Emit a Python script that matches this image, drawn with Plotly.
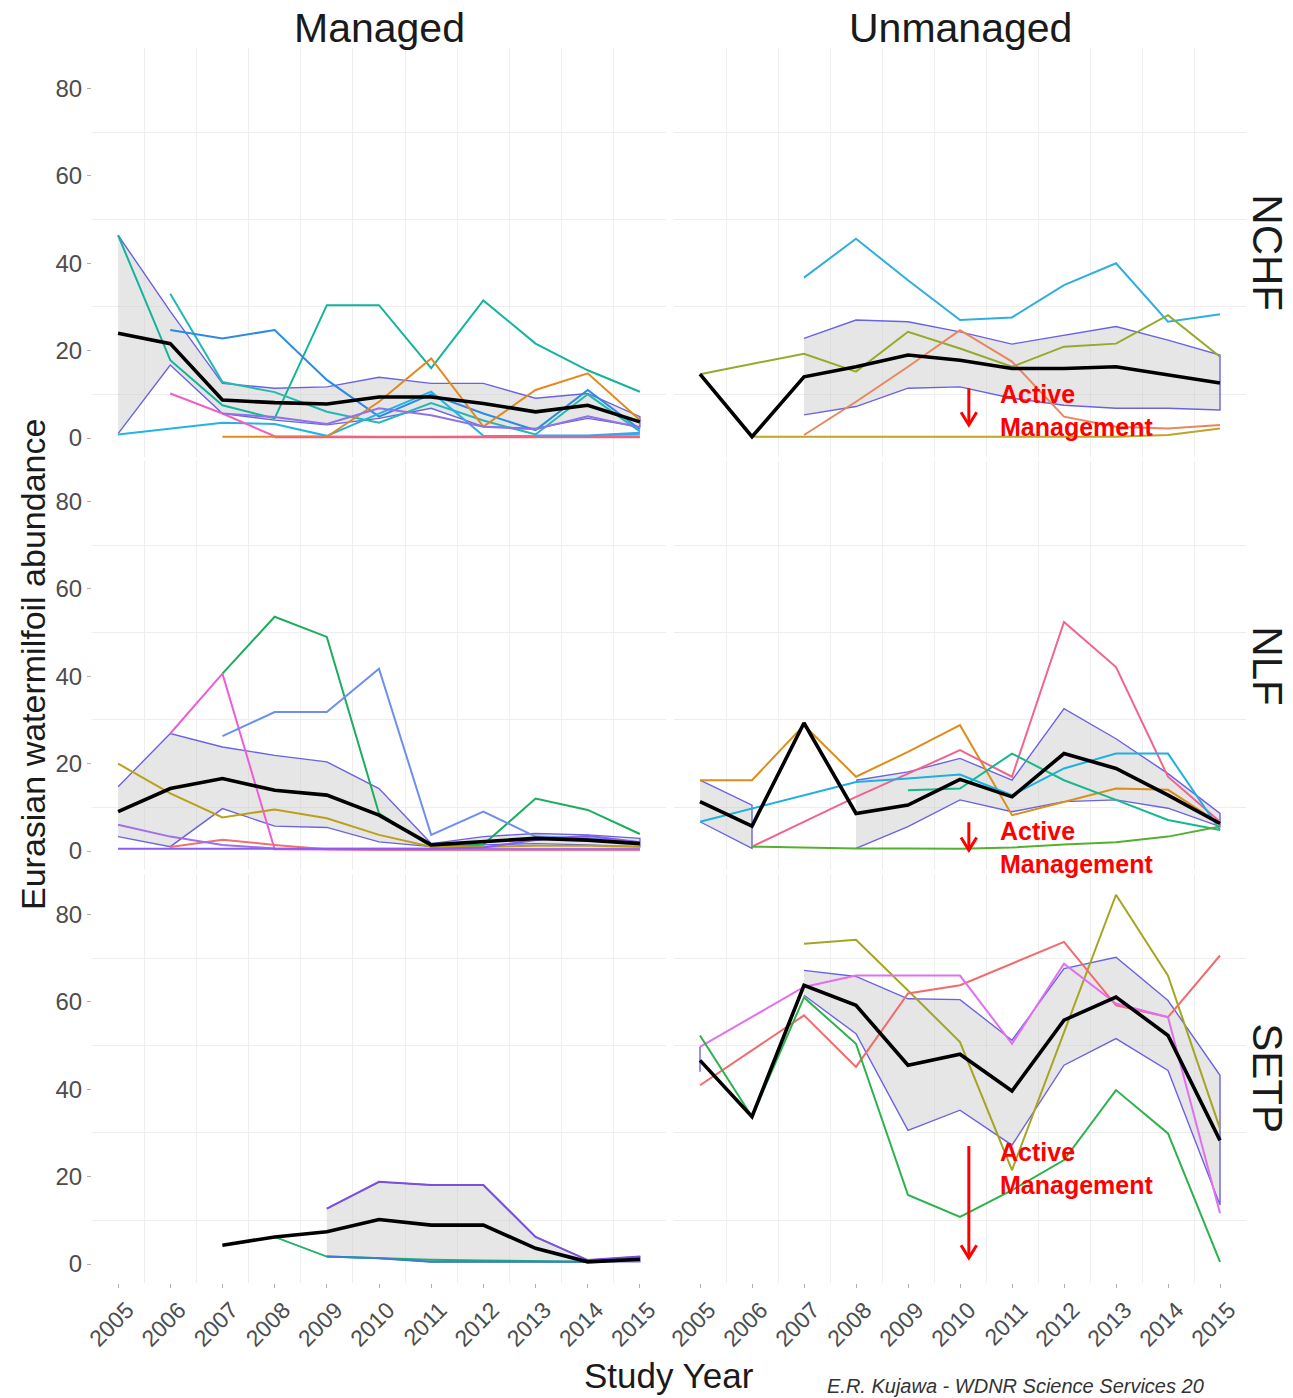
import plotly.graph_objects as go

# ---------------------------------------------------------------- data
YEARS = list(range(2005, 2016))
YEAR_LABELS = [str(y) for y in YEARS]
Y_TICKS = [0, 20, 40, 60, 80]
COL_TITLES = ["Managed", "Unmanaged"]
ROW_TITLES = ["NCHF", "NLF", "SETP"]

# Managed lakes, NCHF ecoregion
M_NCHF_MEAN = [24.0, 21.6, 8.7, 8.1, 7.8, 9.4, 9.4, 7.9, 6.0, 7.5, 3.7]
M_NCHF_HI = [46.4, 29.0, 12.5, 11.4, 11.7, 13.9, 12.5, 12.5, 9.1, 10.2, 4.9]
M_NCHF_LO = [1.0, 16.7, 5.6, 4.1, 3.0, 4.5, 6.8, 2.6, 2.2, 4.5, 2.6]
M_NCHF_LAKES = [
    [46.4, 17.8, 7.5, 4.5, 30.4, 30.4, 16.0, 31.5, 21.6, 15.5, 10.6],
    [None, 33.0, 12.8, 10.5, 6.0, 3.5, 8.0, 4.0, 0.8, 10.0, 1.5],
    [None, 24.7, 22.8, 24.7, 13.3, 4.9, 10.0, 5.6, 1.8, 11.0, 2.0],
    [0.8, 2.2, 3.5, 3.2, 0.5, 5.6, 10.6, 0.5, 0.4, 0.4, 1.0],
    [None, 10.2, 5.6, 0.4, 0.3, 0.3, 0.3, 0.3, 0.3, 0.4, 0.4],
    [None, None, 0.3, 0.3, 0.3, 8.3, 18.2, 2.6, 11.0, 14.8, 4.1],
    [None, None, 5.6, 4.8, 3.2, 6.8, 5.2, 2.6, 2.0, 5.0, 2.4],
    [None, None, None, 0.2, 0.2, 0.2, 0.2, 0.2, 0.2, 0.2, 0.2],
    [None, None, None, None, None, None, None, None, 0.6, 0.6, 1.2],
]
M_NCHF_COLORS = ["#14B49C", "#22B9B4", "#2A8BE4", "#23B4E6", "#F25FC4",
                 "#E3891F", "#8F72E8", "#F0656B", "#3FA2F0"]

# Unmanaged lakes, NCHF ecoregion
U_NCHF_MEAN = [14.6, 0.3, 14.0, 16.3, 19.0, 17.8, 15.9, 15.9, 16.3, 14.4, 12.6]
U_NCHF_HI = [None, None, 22.8, 27.0, 26.6, 24.3, 21.5, 23.5, 25.5, 22.4, 19.0]
U_NCHF_LO = [None, None, 5.3, 7.2, 11.4, 11.7, 9.1, 7.5, 6.8, 6.8, 6.4]
U_NCHF_LAKES = [
    [None, None, 36.7, 45.6, 36.1, 27.0, 27.6, 35.0, 40.0, 26.6, 28.3],
    [14.6, None, 19.3, 15.2, 24.3, 20.5, 16.3, 20.9, 21.6, 28.1, 18.6],
    [None, None, 0.7, 8.3, 16.3, 24.7, 17.5, 4.9, 2.6, 2.2, 3.0],
    [None, 0.3, 0.3, 0.3, 0.3, 0.3, 0.3, 0.3, 0.3, 0.7, 2.2],
]
U_NCHF_COLORS = ["#2FAEE0", "#93AA2A", "#E8875E", "#BFA428"]

# Managed lakes, NLF ecoregion
M_NLF_MEAN = [9.0, 14.3, 16.6, 13.9, 12.8, 8.2, 1.4, 2.1, 2.9, 2.5, 1.7]
M_NLF_HI = [14.7, 26.9, 23.8, 21.9, 20.4, 14.3, 1.7, 3.3, 4.0, 3.7, 2.9]
M_NLF_LO = [3.3, 1.0, 9.7, 5.7, 5.4, 2.1, 1.0, 1.4, 1.7, 1.4, 1.0]
M_NLF_LAKES = [
    [None, None, 40.6, 53.6, 49.0, 8.6, 1.0, 1.5, 12.0, 9.4, 3.9],
    [None, 26.9, 40.6, 0.4, 0.3, 0.3, 0.3, 0.3, 0.3, 0.3, 0.3],
    [None, None, 26.3, 31.8, 31.8, 41.7, 3.7, 9.0, 3.3, 3.0, 2.0],
    [20.0, 13.2, 7.7, 9.5, 7.5, 3.7, 1.0, 1.0, 1.2, 1.2, 1.0],
    [None, 0.9, 2.6, 1.4, 0.4, 0.3, 0.3, 0.3, 0.3, 0.3, 0.3],
    [6.0, 3.3, 1.4, 0.6, 0.5, 0.5, 0.5, 0.5, 0.5, 0.5, 0.5],
    [0.5, 0.5, 0.5, 0.5, 0.5, 0.5, 0.5, 0.8, 2.5, 3.5, 2.0],
]
M_NLF_COLORS = ["#1AAE5C", "#EE5DD8", "#6E8EF0", "#BBA01A",
                "#F07070", "#A070E8", "#8A5CF0"]

# Unmanaged lakes, NLF ecoregion
U_NLF_MEAN = [11.3, 5.7, 29.3, 8.6, 10.5, 16.4, 12.4, 22.3, 18.9, 12.8, 6.3]
U_NLF_HI = [16.2, 10.5, None, 16.2, 18.1, 21.2, 16.2, 32.6, 25.7, 17.7, 8.6]
U_NLF_LO = [6.7, 0.6, None, 0.6, 5.6, 11.7, 9.0, 11.3, 11.7, 9.8, 5.6]
U_NLF_LAKES = [
    [16.2, 16.2, 28.8, 17.0, 22.7, 28.8, 8.2, 11.3, 14.3, 14.0, 6.3],
    [None, 1.0, None, 12.4, 17.7, 23.1, 17.0, 52.4, 42.1, 17.0, 6.7],
    [6.7, 9.7, None, 15.8, 16.6, 17.5, 12.8, 18.9, 22.3, 22.3, 4.8],
    [None, None, None, None, 13.9, 14.3, 22.3, 16.2, 11.7, 7.1, 4.8],
    [None, 1.0, None, 0.6, 0.6, 0.5, 0.8, 1.5, 2.0, 3.3, 5.6],
]
U_NLF_COLORS = ["#DB8E1A", "#F0648E", "#1EB0E0", "#17B890", "#55B030"]

# Managed lakes, SETP ecoregion
M_SETP_MEAN = [None, None, 4.3, 6.2, 7.4, 10.2, 8.9, 8.9, 3.6, 0.5, 1.1]
M_SETP_HI = [None, None, None, None, 12.7, 18.8, 18.1, 18.1, 6.2, 0.9, 1.7]
M_SETP_LO = [None, None, None, None, 1.7, 1.3, 0.5, 0.5, 0.5, 0.5, 0.5]
M_SETP_LAKES = [
    [None, None, 4.3, 6.2, 1.7, 1.3, 1.0, 0.8, 0.6, 0.5, 0.8],
    [None, None, None, None, 1.7, 1.3, 0.5, 0.5, 0.5, 0.5, 1.2],
    [None, None, None, None, 12.7, 18.8, 18.1, 18.1, 6.2, 0.9, 1.7],
]
M_SETP_COLORS = ["#1DB36A", "#3A7BD5", "#7B4FE0"]

# Unmanaged lakes, SETP ecoregion
U_SETP_MEAN = [46.6, 33.7, 63.8, 59.2, 45.5, 48.0, 39.6, 55.8, 61.1, 52.3, 28.3]
U_SETP_HI = [49.7, None, 67.2, 65.8, 60.7, 60.5, 51.2, 67.6, 70.2, 60.3, 43.2]
U_SETP_LO = [44.0, None, 61.5, 52.7, 30.6, 35.2, 27.2, 45.5, 51.6, 44.3, 13.5]
U_SETP_LAKES = [
    [None, None, 73.3, 74.2, 62.6, 50.8, 21.5, 53.0, 84.5, 66.0, 31.0],
    [40.9, None, 56.9, 45.1, 61.9, 63.8, 68.7, 73.7, 59.2, 56.5, 70.6],
    [49.7, None, 63.4, 66.0, 66.0, 66.0, 50.4, 68.7, 59.6, 56.5, 11.6],
    [52.3, 33.7, 61.0, 50.4, 15.8, 10.8, 16.9, 23.8, 39.8, 29.9, 0.5],
]
U_SETP_COLORS = ["#A4A520", "#F26B6B", "#E070F0", "#2CB24C"]

# "Active Management" marker: year of the arrow and arrow span per row
ARROW_YEAR = 2010.17
ARROW_SPAN = [(11.4, 3.0), (6.6, 0.2), (27.0, 1.4)]
NOTE_Y = [6.2, 0.9, 21.9]

PANELS = [
    (M_NCHF_MEAN, M_NCHF_HI, M_NCHF_LO, M_NCHF_LAKES, M_NCHF_COLORS),
    (U_NCHF_MEAN, U_NCHF_HI, U_NCHF_LO, U_NCHF_LAKES, U_NCHF_COLORS),
    (M_NLF_MEAN, M_NLF_HI, M_NLF_LO, M_NLF_LAKES, M_NLF_COLORS),
    (U_NLF_MEAN, U_NLF_HI, U_NLF_LO, U_NLF_LAKES, U_NLF_COLORS),
    (M_SETP_MEAN, M_SETP_HI, M_SETP_LO, M_SETP_LAKES, M_SETP_COLORS),
    (U_SETP_MEAN, U_SETP_HI, U_SETP_LO, U_SETP_LAKES, U_SETP_COLORS),
]

# ---------------------------------------------------------------- layout geometry
W, H = 1293, 1398
FONT = "Liberation Sans, Arial, Helvetica, sans-serif"
COL_PX = [(92, 666), (674, 1246)]
ROW_PX = [(48, 456.6), (461, 869.6), (874, 1282.6)]
X_RANGE = [2004.5, 2015.5]
Y_RANGE = [-4.25, 89.25]
GRID = "#eeeeee"
RIBBON_LINE = "#6A62E4"
RIBBON_FILL = "rgba(200,200,200,0.45)"


def runs(hi, lo):
    """Contiguous index runs where both band limits exist."""
    out, cur = [], []
    for i, (a, b) in enumerate(zip(hi, lo)):
        if a is not None and b is not None:
            cur.append(i)
        elif cur:
            out.append(cur)
            cur = []
    if cur:
        out.append(cur)
    return out


fig = go.Figure()
layout = dict(
    width=W, height=H, margin=dict(l=0, r=0, t=0, b=0, autoexpand=False),
    paper_bgcolor="white", plot_bgcolor="white", showlegend=False,
    font=dict(family=FONT, color="#1a1a1a"),
)

for p, (mean, hi, lo, lakes, colors) in enumerate(PANELS):
    row, col = divmod(p, 2)
    n = p + 1
    xa = "x" if n == 1 else f"x{n}"
    ya = "y" if n == 1 else f"y{n}"

    # grey band with its outline
    for seg in runs(hi, lo):
        xs = [YEARS[i] for i in seg] + [YEARS[i] for i in reversed(seg)]
        ys = [hi[i] for i in seg] + [lo[i] for i in reversed(seg)]
        fig.add_trace(go.Scatter(
            x=xs, y=ys, xaxis=xa, yaxis=ya, mode="lines", fill="toself",
            fillcolor=RIBBON_FILL, line=dict(color=RIBBON_LINE, width=1.4),
            hoverinfo="skip"))

    # individual lakes
    for vals, c in zip(lakes, colors):
        fig.add_trace(go.Scatter(
            x=YEARS, y=vals, xaxis=xa, yaxis=ya, mode="lines",
            connectgaps=True, line=dict(color=c, width=2)))

    # mean line
    fig.add_trace(go.Scatter(
        x=YEARS, y=mean, xaxis=xa, yaxis=ya, mode="lines",
        connectgaps=False, line=dict(color="black", width=3.6)))

    x0, x1 = COL_PX[col]
    y0, y1 = ROW_PX[row]
    bottom = row == 2
    left = col == 0
    layout["xaxis" if n == 1 else f"xaxis{n}"] = dict(
        domain=[x0 / W, x1 / W], range=X_RANGE, anchor=ya, automargin=False,
        tickmode="array", tickvals=YEARS, ticktext=YEAR_LABELS,
        showticklabels=bottom, ticks="outside" if bottom else "",
        ticklen=4, tickcolor="#b0b0b0", tickangle=-45, ticklabelshift=9,
        tickfont=dict(size=23, color="#4d4d4d", family=FONT),
        showgrid=False, zeroline=False, showline=False,
        minor=dict(tickmode="array", tickvals=[y + 0.5 for y in [2004] + YEARS],
                   showgrid=True, gridcolor=GRID, gridwidth=1, ticks=""),
    )
    layout["yaxis" if n == 1 else f"yaxis{n}"] = dict(
        domain=[1 - y1 / H, 1 - y0 / H], range=Y_RANGE, anchor=xa, automargin=False,
        tickmode="array", tickvals=Y_TICKS,
        showticklabels=left, ticks="outside" if left else "",
        ticklen=4, tickcolor="#b0b0b0",
        tickfont=dict(size=24, color="#4d4d4d", family=FONT),
        showgrid=False, zeroline=False, showline=False,
        minor=dict(tickmode="array", tickvals=[10, 30, 50, 70],
                   showgrid=True, gridcolor=GRID, gridwidth=1, ticks=""),
    )

annotations = []
# column strips
for col, title in enumerate(COL_TITLES):
    x0, x1 = COL_PX[col]
    annotations.append(dict(
        text=title, xref="paper", yref="paper", x=(x0 + x1) / 2 / W,
        y=1 - 28 / H, xanchor="center", yanchor="middle", showarrow=False,
        font=dict(size=41, color="#1a1a1a", family=FONT)))
# row strips
for row, title in enumerate(ROW_TITLES):
    y0, y1 = ROW_PX[row]
    annotations.append(dict(
        text=title, xref="paper", yref="paper", x=1268 / W,
        y=1 - (y0 + y1) / 2 / H, xanchor="center", yanchor="middle",
        textangle=90, showarrow=False,
        font=dict(size=42, color="#1a1a1a", family=FONT)))
# axis titles
annotations.append(dict(
    text="Eurasian watermilfoil abundance", xref="paper", yref="paper",
    x=33 / W, y=1 - 665 / H, xanchor="center", yanchor="middle",
    textangle=-90, showarrow=False,
    font=dict(size=34, color="#1a1a1a", family=FONT)))
annotations.append(dict(
    text="Study Year", xref="paper", yref="paper",
    x=669 / W, y=1 - 1375 / H, xanchor="center", yanchor="middle",
    showarrow=False, font=dict(size=35, color="#1a1a1a", family=FONT)))
annotations.append(dict(
    text="<i>E.R. Kujawa - WDNR Science Services 20</i>", xref="paper",
    yref="paper", x=825 / W, y=1 - 1386 / H, xanchor="left",
    yanchor="middle", showarrow=False,
    font=dict(size=20, color="#333333", family=FONT)))

# "Active Management" notes on the unmanaged column
shapes = []
for row in range(3):
    n = row * 2 + 2
    xa, ya = f"x{n}", f"y{n}"
    tail, tip = ARROW_SPAN[row]
    shapes.append(dict(type="line", xref=xa, yref=ya, x0=ARROW_YEAR, x1=ARROW_YEAR,
                       y0=tail, y1=tip, line=dict(color="#FF0000", width=3)))
    dx, dy = 0.15, 2.9
    shapes.append(dict(
        type="path", xref=xa, yref=ya,
        path=(f"M {ARROW_YEAR - dx},{tip + dy} L {ARROW_YEAR},{tip} "
              f"L {ARROW_YEAR + dx},{tip + dy}"),
        line=dict(color="#FF0000", width=3)))
    annotations.append(dict(
        text="<b>Active<br>Management</b>", xref=xa, yref=ya,
        x=2010.73, y=NOTE_Y[row], xanchor="left", yanchor="middle",
        align="left", showarrow=False,
        font=dict(size=25, color="#FF0000", family=FONT)))

layout["annotations"] = annotations
layout["shapes"] = shapes
fig.update_layout(**layout)
fig.write_html("out.html")
